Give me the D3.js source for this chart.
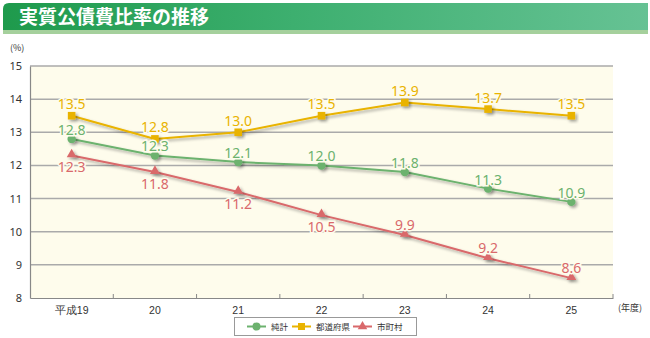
<!DOCTYPE html>
<html><head><meta charset="utf-8">
<script src="https://cdn.jsdelivr.net/npm/d3@7"></script>
<style>
body{margin:0;background:#fff;}
svg{display:block;font-family:"Noto Sans CJK JP","Noto Sans",sans-serif;}
</style></head>
<body><svg id="c" width="650" height="338"></svg>
<script>
const title = "実質公債費比率の推移";
const categories = ["平成19","20","21","22","23","24","25"];
const seriesNames = ["純計","都道府県","市町村"];
const totalValues = [12.8,12.3,12.1,12.0,11.8,11.3,10.9];
const prefValues = [13.5,12.8,13.0,13.5,13.9,13.7,13.5];
const muniValues = [12.3,11.8,11.2,10.5,9.9,9.2,8.6];
const yTicks = [8,9,10,11,12,13,14,15];
const colors = ["#6cb26e","#e9b300","#d9696b"];
// label placement: -1 above, +1 below
const muniLabelPos = [1,1,1,1,-1,-1,-1];

const svg = d3.select("#c");
const defs = svg.append("defs");
const grad = defs.append("linearGradient").attr("id","tg").attr("x1","0").attr("x2","1");
grad.append("stop").attr("offset","0").attr("stop-color","#1e9a4c");
grad.append("stop").attr("offset","0.45").attr("stop-color","#3daf6f");
grad.append("stop").attr("offset","1").attr("stop-color","#66c294");
const f = defs.append("filter").attr("id","sh").attr("x","-50%").attr("y","-50%").attr("width","200%").attr("height","200%");
f.append("feDropShadow").attr("dx",2).attr("dy",2).attr("stdDeviation",1.5).attr("flood-color","#000").attr("flood-opacity",0.35);

// title bar
svg.append("path").attr("d","M3,30 L3,9 Q3,3 9,3 L648,3 L648,30 Z").attr("fill","url(#tg)");
svg.append("rect").attr("x",3).attr("y",30).attr("width",645).attr("height",4).attr("fill","#a5d09c");
svg.append("text").attr("x",19).attr("y",24).attr("fill","#fff").attr("font-size",19).attr("font-weight",700).text(title);

const L=30,R=613,T=66,B=298;
svg.append("rect").attr("x",L).attr("y",T).attr("width",R-L).attr("height",B-T).attr("fill","#fefcec");

const y = d3.scaleLinear().domain([8,15]).range([B,T]);
const x = d3.scaleBand().domain(categories).range([L,R]);
const cx = d => x(d)+x.bandwidth()/2;

// gridlines
svg.append("g").selectAll("line").data(yTicks.filter(v=>v>8)).join("line")
  .attr("x1",L).attr("x2",R).attr("y1",d=>y(d)).attr("y2",d=>y(d))
  .attr("stroke","#aaaaaa").attr("stroke-width",1.5);

// y axis
const ya = svg.append("g").attr("transform",`translate(${L},0)`)
  .call(d3.axisLeft(y).tickValues(yTicks).tickSize(0).tickPadding(8).tickFormat(d3.format("d")));
ya.select(".domain").attr("stroke","#888").attr("stroke-width",1.2);
ya.selectAll("text").attr("font-size",11).attr("fill","#333").attr("font-family","Noto Sans, sans-serif");

// x axis
const xa = svg.append("g").attr("transform",`translate(0,${B})`)
  .call(d3.axisBottom(x).tickSize(0).tickPadding(9));
xa.select(".domain").attr("stroke","#888").attr("stroke-width",1.2);
xa.selectAll("text").attr("font-size",10.5).attr("fill","#333");
// boundary ticks
svg.append("g").selectAll("line").data(d3.range(1,categories.length+1)).join("line")
  .attr("x1",i=>L+i*x.bandwidth()).attr("x2",i=>L+i*x.bandwidth())
  .attr("y1",B-4).attr("y2",B).attr("stroke","#888").attr("stroke-width",1);

svg.append("text").attr("x",10).attr("y",51).attr("font-size",9).attr("fill","#333").text("(%)");
svg.append("text").attr("x",618).attr("y",311).attr("font-size",9).attr("fill","#333").text("(年度)");

const series = [
 {vals:totalValues,c:colors[0],shape:"circle",pos:categories.map(()=>-1),up:-4},
 {vals:prefValues,c:colors[1],shape:"square",pos:categories.map(()=>-1),up:-6.5},
 {vals:muniValues,c:colors[2],shape:"triangle",pos:muniLabelPos,up:-5}
];
const line = d3.line().x((d,i)=>cx(categories[i])).y(d=>y(d));
function marker(g,shape,c,k){
  k = k||1;
  if(shape==="circle") g.append("circle").attr("r",4.2*k).attr("fill",c);
  else if(shape==="square") g.append("rect").attr("x",-3.8*k).attr("y",-3.8*k).attr("width",7.6*k).attr("height",7.6*k).attr("fill",c);
  else g.append("path").attr("d",d3.symbol(d3.symbolTriangle,42*k*k)()).attr("transform","translate(0,-1)").attr("fill",c);
}
series.forEach(s=>{
  svg.append("path").datum(s.vals).attr("d",line).attr("fill","none")
    .attr("stroke",s.c).attr("stroke-width",2).attr("filter","url(#sh)");
});
series.forEach(s=>{
  s.vals.forEach((v,i)=>{
    const g = svg.append("g").attr("transform",`translate(${cx(categories[i])},${y(v)})`).attr("filter","url(#sh)");
    marker(g,s.shape,s.c);
  });
});
series.forEach(s=>{
  s.vals.forEach((v,i)=>{
    const yy = y(v) + (s.pos[i]<0 ? s.up : 17);
    svg.append("text").attr("x",cx(categories[i])).attr("y",yy)
      .attr("text-anchor","middle").attr("font-size",14).attr("font-family","Noto Sans, sans-serif")
      .attr("fill",s.c).attr("stroke","#fefcec").attr("stroke-width",3).attr("paint-order","stroke")
      .text(d3.format(".1f")(v));
  });
});

// legend
const lg = svg.append("g");
lg.append("rect").attr("x",234.5).attr("y",317.5).attr("width",182).attr("height",18).attr("fill","#fff").attr("stroke","#999");
const lx=[247,292,353];
series.forEach((s,i)=>{
  const g=lg.append("g").attr("transform",`translate(${lx[i]},326.5)`);
  g.append("line").attr("x1",0).attr("x2",19).attr("stroke",s.c).attr("stroke-width",2);
  const m=g.append("g").attr("transform","translate(9.5,0)");
  if(s.shape==="circle") m.append("circle").attr("r",4).attr("fill",s.c);
  else if(s.shape==="square") m.append("rect").attr("x",-3.5).attr("y",-3.5).attr("width",7).attr("height",7).attr("fill",s.c);
  else m.append("path").attr("d",d3.symbol(d3.symbolTriangle,40)()).attr("fill",s.c);
  g.append("text").attr("x",24).attr("y",3.5).attr("font-size",8.5).attr("fill","#333").text(seriesNames[i]);
});
</script></body></html>
